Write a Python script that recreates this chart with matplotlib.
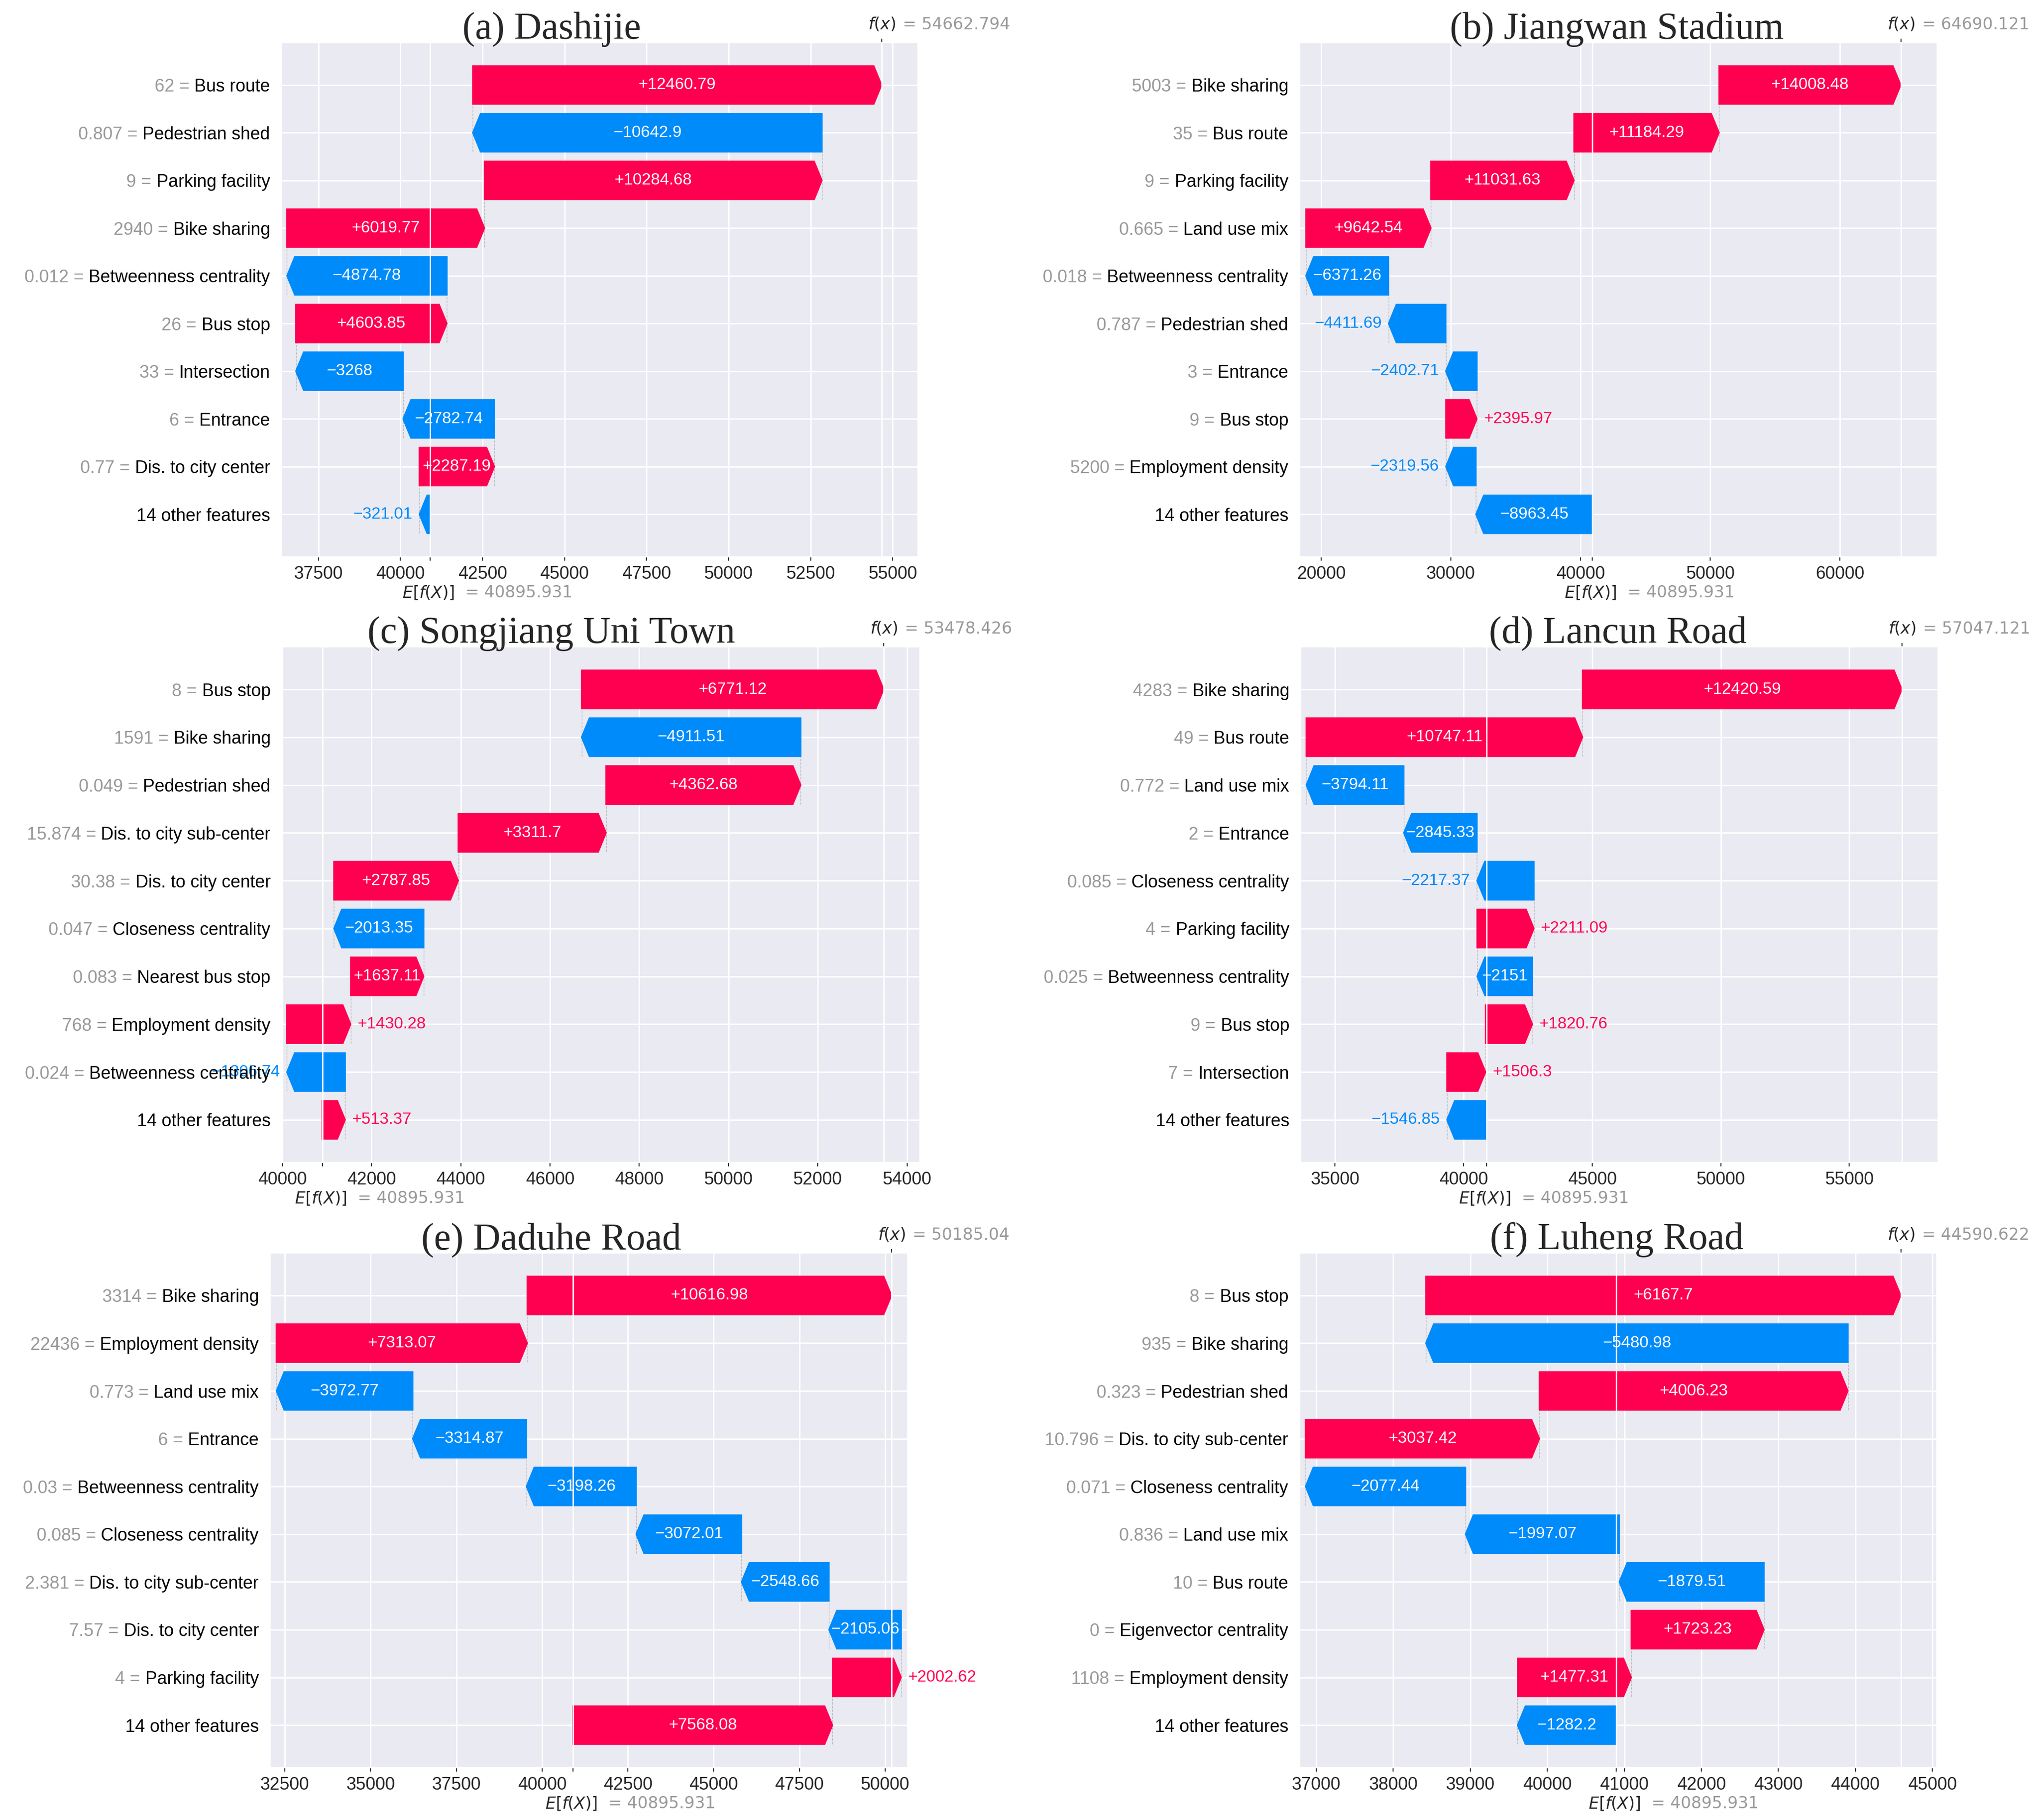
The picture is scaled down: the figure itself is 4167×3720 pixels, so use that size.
import matplotlib
matplotlib.use("Agg")
import matplotlib.pyplot as plt
import seaborn as sns
from matplotlib.ticker import MultipleLocator, StrMethodFormatter

sns.set_style("darkgrid")
plt.rcParams['font.family'] = ['Liberation Sans', 'DejaVu Sans']
plt.rcParams['mathtext.fontset'] = 'dejavusans'
plt.rcParams['grid.linewidth'] = 1.0

RED = '#ff0051'
BLUE = '#008bfb'
GRAY = '#999999'

base_value = 40895.931

# (a) Dashijie
title_a = "(a) Dashijie"
fx_a = 54662.794
names_a = ["Bus route", "Pedestrian shed", "Parking facility", "Bike sharing",
           "Betweenness centrality", "Bus stop", "Intersection", "Entrance",
           "Dis. to city center", "14 other features"]
feats_a = ["62", "0.807", "9", "2940", "0.012", "26", "33", "6", "0.77", ""]
vals_a = [12460.79, -10642.9, 10284.68, 6019.77, -4874.78, 4603.85, -3268,
          -2782.74, 2287.19, -321.01]

# (b) Jiangwan Stadium
title_b = "(b) Jiangwan Stadium"
fx_b = 64690.121
names_b = ["Bike sharing", "Bus route", "Parking facility", "Land use mix",
           "Betweenness centrality", "Pedestrian shed", "Entrance", "Bus stop",
           "Employment density", "14 other features"]
feats_b = ["5003", "35", "9", "0.665", "0.018", "0.787", "3", "9", "5200", ""]
vals_b = [14008.48, 11184.29, 11031.63, 9642.54, -6371.26, -4411.69, -2402.71,
          2395.97, -2319.56, -8963.45]

# (c) Songjiang Uni Town
title_c = "(c) Songjiang Uni Town"
fx_c = 53478.426
names_c = ["Bus stop", "Bike sharing", "Pedestrian shed", "Dis. to city sub-center",
           "Dis. to city center", "Closeness centrality", "Nearest bus stop",
           "Employment density", "Betweenness centrality", "14 other features"]
feats_c = ["8", "1591", "0.049", "15.874", "30.38", "0.047", "0.083", "768", "0.024", ""]
vals_c = [6771.12, -4911.51, 4362.68, 3311.7, 2787.85, -2013.35, 1637.11,
          1430.28, -1306.74, 513.37]

# (d) Lancun Road
title_d = "(d) Lancun Road"
fx_d = 57047.121
names_d = ["Bike sharing", "Bus route", "Land use mix", "Entrance",
           "Closeness centrality", "Parking facility", "Betweenness centrality",
           "Bus stop", "Intersection", "14 other features"]
feats_d = ["4283", "49", "0.772", "2", "0.085", "4", "0.025", "9", "7", ""]
vals_d = [12420.59, 10747.11, -3794.11, -2845.33, -2217.37, 2211.09, -2151,
          1820.76, 1506.3, -1546.85]

# (e) Daduhe Road
title_e = "(e) Daduhe Road"
fx_e = 50185.04
names_e = ["Bike sharing", "Employment density", "Land use mix", "Entrance",
           "Betweenness centrality", "Closeness centrality", "Dis. to city sub-center",
           "Dis. to city center", "Parking facility", "14 other features"]
feats_e = ["3314", "22436", "0.773", "6", "0.03", "0.085", "2.381", "7.57", "4", ""]
vals_e = [10616.98, 7313.07, -3972.77, -3314.87, -3198.26, -3072.01, -2548.66,
          -2105.06, 2002.62, 7568.08]

# (f) Luheng Road
title_f = "(f) Luheng Road"
fx_f = 44590.622
names_f = ["Bus stop", "Bike sharing", "Pedestrian shed", "Dis. to city sub-center",
           "Closeness centrality", "Land use mix", "Bus route",
           "Eigenvector centrality", "Employment density", "14 other features"]
feats_f = ["8", "935", "0.323", "10.796", "0.071", "0.836", "10", "0", "1108", ""]
vals_f = [6167.7, -5480.98, 4006.23, 3037.42, -2077.44, -1997.07, -1879.51,
          1723.23, 1477.31, -1282.2]

W, H = 4167, 3720
DPI = 200
# panel layout: axes box in pixels (left, top, right, bottom), x range, tick step, title centre
panels = [
    (title_a, fx_a, names_a, feats_a, vals_a, (575, 87, 1876, 1138), (36370, 55770), 2500, 1127),
    (title_b, fx_b, names_b, feats_b, vals_b, (2656, 87, 3959, 1138), (18340, 67500), 10000, 3304),
    (title_c, fx_c, names_c, feats_c, vals_c, (576, 1322, 1880, 2376), (39990, 54290), 2000, 1127),
    (title_d, fx_d, names_d, feats_d, vals_d, (2658, 1322, 3961, 2376), (33660, 58460), 5000, 3306),
    (title_e, fx_e, names_e, feats_e, vals_e, (552, 2561, 1855, 3613), (32072, 50656), 2500, 1127),
    (title_f, fx_f, names_f, feats_f, vals_f, (2656, 2561, 3958, 3613), (36784, 45057), 1000, 3304),
]


def fmt_val(v):
    s = "%+0.2f" % v
    s = s.rstrip('0').rstrip('.')
    return s.replace('-', '\u2212')


def fmt3(v):
    return ("%0.3f" % v).rstrip('0').rstrip('.')


fig = plt.figure(figsize=(W / DPI, H / DPI), dpi=DPI)
renderer = fig.canvas.get_renderer()
ypad = 8.3
space_pt = 0.278 * 13  # width of a space at 13 pt

for title, fx, names, feats, vals, box, xlim, step, tcx in panels:
    l, t, r, b = box
    ax = fig.add_axes([l / W, 1 - b / H, (r - l) / W, (b - t) / H])
    n = len(vals)
    rows = list(range(n - 1, -1, -1))

    # waterfall starts, bottom row begins at the base value
    starts = [0.0] * n
    loc = base_value
    for i in range(n - 1, -1, -1):
        starts[i] = loc
        loc += vals[i]

    ax.set_xlim(xlim)
    ax.set_ylim(-0.89, n - 1 + 0.89)
    xscale = (xlim[1] - xlim[0]) / (r - l)
    hl = 16 * xscale
    off = 14 * xscale

    for i in range(n):
        y = rows[i]
        v = vals[i]
        x0 = starts[i]
        d = abs(v)
        col = RED if v >= 0 else BLUE
        sgn = 1 if v >= 0 else -1
        ax.arrow(x0, y, sgn * max(d - hl, 1e-6), 0, head_length=min(d, hl),
                 width=0.8, head_width=0.8, color=col)
        ax.plot([x0, x0], [y - 1.4, y + 0.4], color='#bbbbbb', ls='--', lw=0.5, zorder=-1)
        txt = ax.text(x0 + v / 2, y, fmt_val(v), ha='center', va='center',
                      color='white', fontsize=12)
        # label goes after the arrow when it does not fit inside
        if txt.get_window_extent(renderer).width + 3 > d / xscale:
            txt.remove()
            if v >= 0:
                ax.text(x0 + v + off, y, fmt_val(v), ha='left', va='center',
                        color=RED, fontsize=12)
            else:
                ax.text(x0 + v - off, y, fmt_val(v), ha='right', va='center',
                        color=BLUE, fontsize=12)

    # y labels: grey "value =" followed by the black feature name
    ax.set_yticks(rows)
    ax.set_yticklabels([''] * n)
    ax.tick_params(axis='y', left=False, length=0, pad=ypad)
    for i in range(n):
        nt = ax.annotate(names[i], xy=(0, rows[i]), xycoords=('axes fraction', 'data'),
                         xytext=(-ypad, 0), textcoords='offset points', ha='right',
                         va='center_baseline', fontsize=13, color='black',
                         annotation_clip=False)
        if feats[i]:
            w_pt = nt.get_window_extent(renderer).width * 72 / DPI
            ax.annotate(feats[i] + " =", xy=(0, rows[i]), xycoords=('axes fraction', 'data'),
                        xytext=(-ypad - w_pt - space_pt, 0), textcoords='offset points',
                        ha='right', va='center_baseline', fontsize=13, color=GRAY,
                        annotation_clip=False)

    ax.xaxis.set_major_locator(MultipleLocator(step))
    ax.xaxis.set_major_formatter(StrMethodFormatter('{x:.0f}'))
    ax.tick_params(axis='x', bottom=True, length=3, width=0.8, color='#333333',
                   pad=3.5, labelsize=13, labelcolor='#262626')

    # base value axis (bottom) and f(x) axis (top)
    ax2 = ax.twiny()
    ax2.set_xlim(xlim)
    ax2.set_xticks([base_value])
    ax2.set_xticklabels([''])
    ax2.xaxis.tick_bottom()
    ax2.tick_params(axis='x', bottom=True, top=False, length=3, width=0.8, color='#333333')

    ax3 = ax.twiny()
    ax3.set_xlim(xlim)
    ax3.set_xticks([fx])
    ax3.set_xticklabels([''])
    ax3.xaxis.tick_top()
    ax3.tick_params(axis='x', top=True, bottom=False, length=3, width=0.8, color='#333333')

    ax.annotate("$f(x)$", xy=(fx, 1), xycoords=('data', 'axes fraction'),
                xytext=(-10, 9.7), textcoords='offset points', ha='left', va='baseline',
                fontsize=12, color='#262626', annotation_clip=False)
    ax.annotate("= " + fmt3(fx), xy=(fx, 1), xycoords=('data', 'axes fraction'),
                xytext=(15.5, 9.7), textcoords='offset points', ha='left', va='baseline',
                fontsize=12, color=GRAY, family='DejaVu Sans', annotation_clip=False)
    ax.annotate("$E[f(X)]$", xy=(base_value, 0), xycoords=('data', 'axes fraction'),
                xytext=(-20.5, -26.6), textcoords='offset points', ha='left', va='center',
                fontsize=12, color='#262626', annotation_clip=False)
    ax.annotate("= " + fmt3(base_value), xy=(base_value, 0), xycoords=('data', 'axes fraction'),
                xytext=(26, -26.6), textcoords='offset points', ha='left', va='center',
                fontsize=12, color=GRAY, family='DejaVu Sans', annotation_clip=False)

    fig.text(tcx / W, 1 - (t - 8) / H, title, ha='center', va='baseline',
             fontsize=28, family='Liberation Serif')

fig.savefig("out.png", dpi=DPI)
